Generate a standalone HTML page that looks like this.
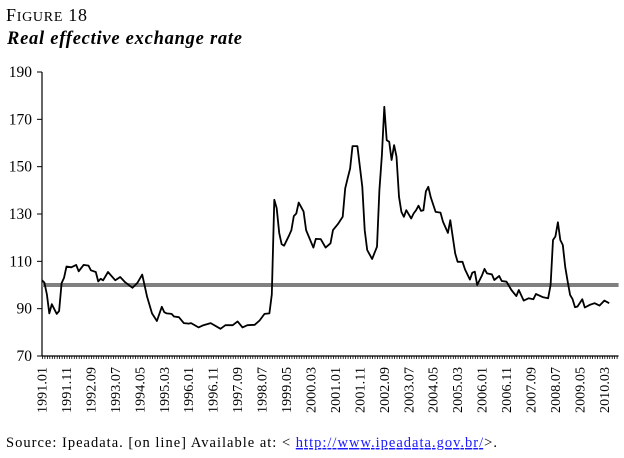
<!DOCTYPE html>
<html><head><meta charset="utf-8"><style>
body{margin:0;background:#fff;}
svg{display:block;font-family:"Liberation Serif",serif;}
</style></head><body>
<svg width="624" height="458">
<text x="6" y="21" font-size="18" fill="#000" textLength="81">F<tspan font-size="14">IGURE</tspan> 18</text>
<text x="7" y="44" font-size="18.5" font-style="italic" font-weight="bold" fill="#000" textLength="235">Real effective exchange rate</text>
<g id="plot"></g>
<text x="6" y="447" font-size="14.5" fill="#000" textLength="491" lengthAdjust="spacing">Source: Ipeadata. [on line] Available at: &lt; <tspan fill="#1a1aff" text-decoration="underline">http://www.ipeadata.gov.br/</tspan>&gt;.</text>
</svg>
<script>
const months=[0,1,2,3,4,6,7,8,9,10,12,14,15,17,19,20,22,23,24,25,27,30,32,34,37,39,41,43,45,47,49,50,51,53,54,56,58,60,61,64,66,69,73,75,78,80,82,84,87,89,91,93,94,95,96,97,98,99,101,102,103,104,105,107,108,110,111,112,114,116,118,119,121,123,124,125,126,127,129,131,132,133,135,137,138,139,140,141,142,143,144,145,146,147,148,149,151,152,153,154,155,156,157,158,159,161,163,164,166,167,169,170,172,173,175,176,177,178,180,181,182,184,185,187,188,190,192,194,195,197,199,201,202,205,207,208,209,210,211,212,213,214,215,216,217,218,219,221,222,224,226,228,230,232,234,235];
const values=[102,101,96,88,91.9,87.8,89,100.8,103,107.8,107.5,108.5,105.8,108.5,108.2,106.2,105.5,101.5,102.6,102,105.5,102,103.4,101.2,98.8,100.9,104.4,95,88,84.8,90.8,88.5,88,87.8,86.7,86.4,83.9,83.7,83.9,82.1,83,83.9,81.5,83,83,84.6,82.1,83,83.2,85,87.8,88,96,136,132.4,122,117.3,116.6,120.8,123.2,129.1,130.2,134.8,131,123.2,118.3,115.8,119.5,119.4,115.8,117.6,123.2,125.7,128.8,140.8,145,149.2,158.7,158.7,141.5,123.2,114.8,111,116.2,140.1,154.9,175.3,161.2,160.5,152.8,159.1,154.2,137.3,130.9,128.8,131.6,128.1,130.2,131.6,133.5,131.3,131.6,139.6,141.5,137,130.9,130.6,126.7,122,127.4,113.3,109.8,109.8,106.6,102.3,105.2,105.6,100,104.2,106.8,104.9,104.5,102.1,103.8,101.7,101.4,97.9,95.3,97.9,93.4,94.4,94,96.2,94.8,94.4,100,119,120.5,126.5,119,116.9,107.7,101.4,95.8,94,90.6,90.9,94,90.5,91.6,92.3,91.3,93.4,92.3];
const yTicks=[70,90,110,130,150,170,190];
const xLabels=["1991.01","1991.11","1992.09","1993.07","1994.05","1995.03","1996.01","1996.11","1997.09","1998.07","1999.05","2000.03","2001.01","2001.11","2002.09","2003.07","2004.05","2005.03","2006.01","2006.11","2007.09","2008.07","2009.05","2010.03"];
const refValue=100;
const totalMonths=236;
const NS="http://www.w3.org/2000/svg";
const g=document.getElementById('plot');
const X0=42,XW=2.445,Y0=356,YT=72;
const x=m=>X0+m*XW;
const y=v=>Y0-(v-70)/120*(Y0-YT);
function mk(t,a){const e=document.createElementNS(NS,t);for(const k in a)e.setAttribute(k,a[k]);g.appendChild(e);return e;}
let ax=mk('line',{x1:X0,y1:YT,x2:X0,y2:Y0,stroke:'#000','stroke-width':1.2});


let bx=mk('line',{x1:X0,y1:Y0,x2:x(totalMonths-1)+2,y2:Y0,stroke:'#000','stroke-width':1.2});


yTicks.forEach(v=>{
  let t=mk('line',{x1:X0-5,y1:y(v),x2:X0,y2:y(v),stroke:'#000'});
  
  
  let l=mk('text',{x:X0-10,y:y(v)+5,'text-anchor':'end','font-size':15.5});
  l.textContent=v;
  
  
});
let d='';
for(let m=0;m<totalMonths;m++){d+='M'+(x(m)+0.5).toFixed(1)+' '+Y0+'v3';}
let mt=mk('path',{d:d,stroke:'#000','stroke-width':0.8});


xLabels.forEach((s,i)=>{
  const px=x(i*10)+4.5;
  let l=mk('text',{x:0,y:0,'text-anchor':'end','font-size':14,textLength:46,transform:`translate(${px},${Y0+11}) rotate(-90)`});
  l.textContent=s;
  
  
});
let ref=mk('line',{x1:X0,y1:y(refValue),x2:x(totalMonths-1)+2,y2:y(refValue),stroke:'#808080','stroke-width':4});


let p=months.map((m,i)=>(i?'L':'M')+x(m).toFixed(1)+' '+y(values[i]).toFixed(1)).join('');
let ln=mk('path',{d:p,fill:'none',stroke:'#000','stroke-width':1.8,'stroke-linejoin':'round'});


</script>
</body></html>
